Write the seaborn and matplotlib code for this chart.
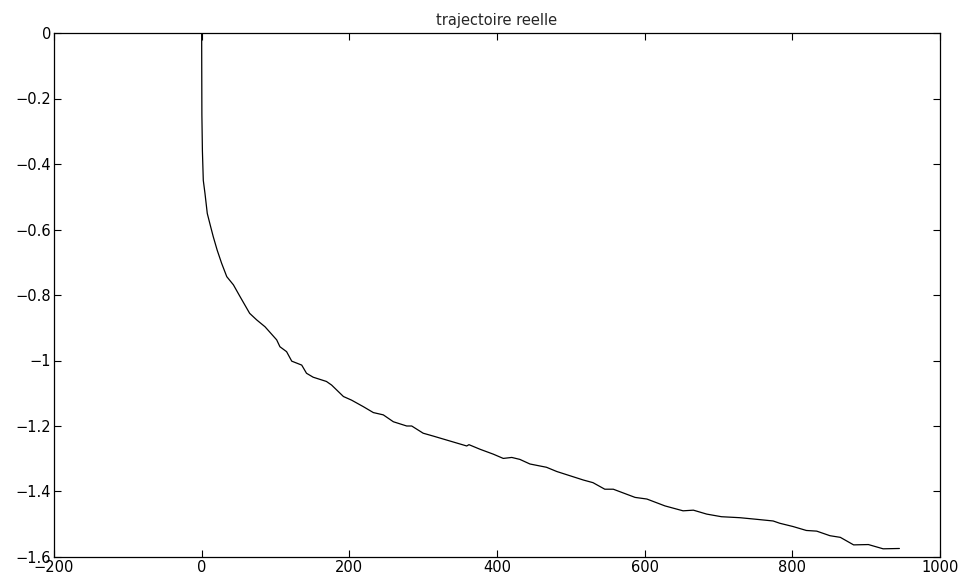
import matplotlib
matplotlib.use("Agg")
import matplotlib.pyplot as plt
import seaborn as sns
import pandas as pd

# Data
x_vals = [0, 0.1, 0.3, 1, 2.2, 4.5, 7.6, 12, 15.7, 21, 27, 34, 43, 52, 65, 74.5, 85.8,
          101.6, 106, 115, 122, 135.5, 142, 151, 169, 176, 192, 203, 219, 232.5, 246,
          259.6, 277.7, 284.5, 300, 314, 332, 359, 362, 377, 395, 408.5, 420, 431,
          444.6, 458, 467, 481, 517, 530, 546, 557.5, 587, 603, 627.5, 652, 666, 684,
          704, 729, 752, 774, 783, 801, 819, 833, 851, 865, 883, 903, 923, 945]
y_vals = [0, -0.1, -0.25, -0.36, -0.45, -0.49, -0.551, -0.59, -0.622, -0.663, -0.703,
          -0.744, -0.769, -0.805, -0.856, -0.876, -0.897, -0.937, -0.958, -0.973,
          -1.002, -1.014, -1.039, -1.051, -1.064, -1.075, -1.110, -1.121, -1.141,
          -1.159, -1.166, -1.187, -1.200, -1.200, -1.222, -1.231, -1.243, -1.261,
          -1.257, -1.271, -1.286, -1.299, -1.296, -1.302, -1.316, -1.322, -1.326,
          -1.339, -1.365, -1.373, -1.393, -1.393, -1.418, -1.423, -1.444, -1.459,
          -1.457, -1.469, -1.477, -1.480, -1.485, -1.490, -1.497, -1.507, -1.519,
          -1.521, -1.535, -1.540, -1.563, -1.562, -1.575, -1.574]

x_ticks = [-200, 0, 200, 400, 600, 800, 1000]
x_tick_labels = ["\u2212200", "0", "200", "400", "600", "800", "1000"]
y_ticks = [0, -0.2, -0.4, -0.6, -0.8, -1, -1.2, -1.4, -1.6]
y_tick_labels = ["0", "\u22120.2", "\u22120.4", "\u22120.6", "\u22120.8", "\u22121",
                 "\u22121.2", "\u22121.4", "\u22121.6"]
title = "trajectoire reelle"

sns.set_style("white")
plt.rcParams['font.family'] = ['DejaVu Sans']

df = pd.DataFrame({"x": x_vals, "y": y_vals})

fig = plt.figure(figsize=(9.67, 5.85), dpi=100)
ax = fig.add_axes([54 / 967, 28 / 585, (940 - 54) / 967, (557 - 33) / 585])
sns.lineplot(data=df, x="x", y="y", sort=False, estimator=None, color="black",
             linewidth=0.9, ax=ax)

ax.set_xlim(-200, 1000)
ax.set_ylim(-1.6, 0)
ax.set_xticks(x_ticks)
ax.set_xticklabels(x_tick_labels, fontsize=10.5)
ax.set_yticks(y_ticks)
ax.set_yticklabels(y_tick_labels, fontsize=10.5)
ax.set_xlabel("")
ax.set_ylabel("")
ax.set_title(title, fontsize=10.5, pad=6)
ax.tick_params(direction="in", length=5, width=0.8, top=True, right=True,
               bottom=True, left=True, pad=2, colors="black")
for s in ax.spines.values():
    s.set_visible(True)
    s.set_color("black")
    s.set_linewidth(0.9)

fig.savefig("out.png", dpi=100, facecolor="white")
